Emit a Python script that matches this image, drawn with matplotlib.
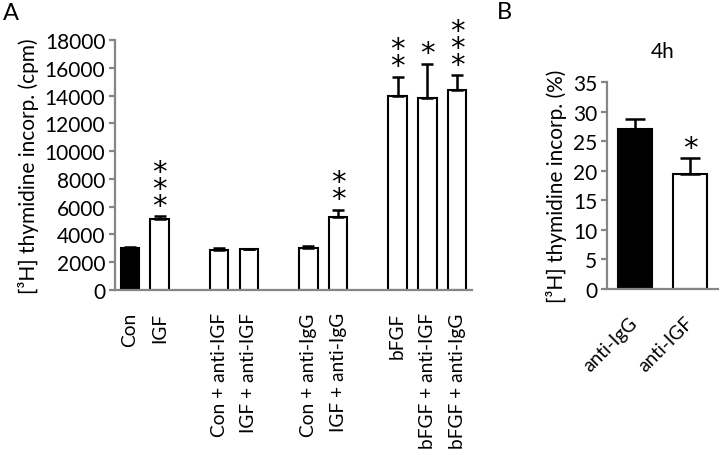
import matplotlib
matplotlib.use("Agg")
import matplotlib.pyplot as plt

plt.rcParams['font.family'] = ['Lato', 'DejaVu Sans']

# Panel A data (cpm)
labels_a = ["Con", "IGF", "Con + anti-IGF", "IGF + anti-IGF",
            "Con + anti-IgG", "IGF + anti-IgG",
            "bFGF", "bFGF + anti-IGF", "bFGF + anti-IgG"]
slots_a = [0, 1, 3, 4, 6, 7, 9, 10, 11]
values_a = [3000, 5100, 2900, 2920, 3000, 5250, 14000, 13850, 14400]
errors_a = [100, 220, 160, 60, 200, 520, 1350, 2450, 1050]
stars_a = [0, 3, 0, 0, 0, 2, 2, 1, 3]
fills_a = ["black"] + ["white"] * 8

# Panel B data (%)
labels_b = ["anti-IgG", "anti-IGF"]
values_b = [27.0, 19.4]
errors_b = [1.7, 2.7]
stars_b = [0, 1]
fills_b = ["black", "white"]

W, H = 720, 456
fig = plt.figure(figsize=(W / 100, H / 100), dpi=100)
axA = fig.add_axes([115 / W, 1 - 291 / H, 357 / W, 250 / H])
axB = fig.add_axes([607 / W, 1 - 290 / H, 111 / W, 207 / H])

gray = "#868686"
fs = 15


def style(ax):
    for s in ["top", "right"]:
        ax.spines[s].set_visible(False)
    for s in ["left", "bottom"]:
        ax.spines[s].set_color(gray)
        ax.spines[s].set_linewidth(1.6)
    ax.tick_params(axis="y", color=gray, width=1.6, length=4, labelsize=fs, pad=3)
    ax.tick_params(axis="x", length=0, labelsize=13.8)


def add_stars(ax, xs, tops, counts):
    for x, t, n in zip(xs, tops, counts):
        if n:
            ax.annotate("\n".join(["*"] * n), (x, t), xytext=(0, -2.5),
                        textcoords="offset points", ha="center", va="bottom",
                        fontsize=21, family="DejaVu Sans", linespacing=0.5)


# ---- Panel A ----
axA.bar(slots_a, values_a, width=0.62, color=fills_a, edgecolor="black",
        linewidth=1.5, zorder=2)
axA.errorbar(slots_a, values_a, yerr=[[0] * len(values_a), errors_a], fmt="none",
             ecolor="black", elinewidth=1.8, capsize=4.5, capthick=1.8, zorder=3)
add_stars(axA, slots_a, [v + e for v, e in zip(values_a, errors_a)], stars_a)
axA.set_xlim(-0.5, 11.5)
axA.set_ylim(0, 18000)
axA.set_yticks(range(0, 18001, 2000))
axA.set_xticks(slots_a)
axA.set_xticklabels(labels_a, rotation=90, va="top")
axA.tick_params(axis="x", pad=16)
style(axA)
axA.set_ylabel("[³H] thymidine incorp. (cpm)", fontsize=fs, labelpad=4)

# ---- Panel B ----
xb = range(len(values_b))
axB.bar(xb, values_b, width=0.62, color=fills_b, edgecolor="black",
        linewidth=1.5, zorder=2)
axB.errorbar(xb, values_b, yerr=[[0] * len(values_b), errors_b], fmt="none",
             ecolor="black", elinewidth=1.8, capsize=7, capthick=1.8, zorder=3)
add_stars(axB, list(xb), [v + e for v, e in zip(values_b, errors_b)], stars_b)
axB.set_xlim(-0.5, 1.5)
axB.set_ylim(0, 35)
axB.set_yticks(range(0, 36, 5))
axB.set_xticks(list(xb))
axB.set_xticklabels(labels_b, rotation=45, ha="right", va="center",
                    rotation_mode="anchor", fontsize=14.5)
axB.tick_params(axis="x", pad=22)
style(axB)
axB.set_ylabel("[³H] thymidine incorp. (%)", fontsize=fs, labelpad=4)
axB.set_title("4h", fontsize=fs, pad=18)

fig.text(3 / W, 1 - 3 / H, "A", fontsize=17, ha="left", va="top")
fig.text(497 / W, 1 - 2 / H, "B", fontsize=17, ha="left", va="top")

fig.savefig("out.png", dpi=100)
